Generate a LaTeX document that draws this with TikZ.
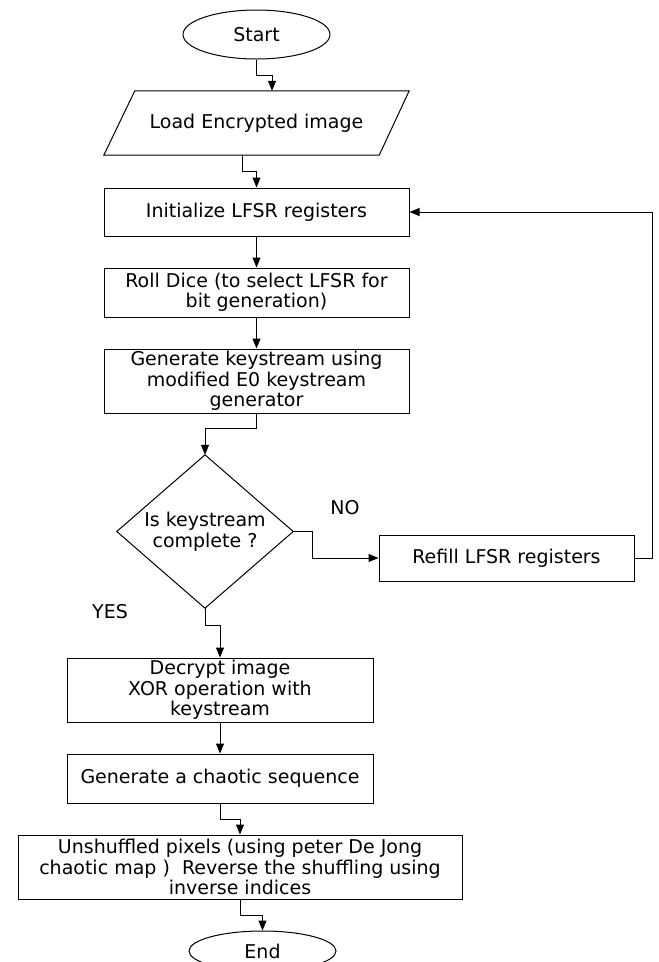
\documentclass[tikz,border=0pt]{standalone}
\usepackage{fontspec}
\setmainfont{DejaVu Sans}
\usetikzlibrary{shapes.geometric,arrows.meta}
\begin{document}
\begin{tikzpicture}[x=1pt,y=-1pt,
  every node/.style={font=\fontsize{19}{20.5}\selectfont, inner sep=0pt, align=center},
  box/.style={draw, line width=1pt, rectangle},
  oval/.style={draw, line width=1pt, ellipse, minimum width=147pt, minimum height=49pt},
  plain/.style={rectangle},
  arr/.style={-{Triangle[length=10pt,width=8pt]}, line width=1pt},
  lbl/.style={font=\fontsize{19}{20.5}\selectfont}]
\useasboundingbox (0,0) rectangle (659,962);
\clip (0,0) rectangle (659,962);

\node[oval] (start) at (256.5,34.5) {Start};
\node[plain, minimum width=305pt, minimum height=64pt] (load) at (256.5,123) {Load Encrypted image};
\draw[line width=1pt] ([xshift=31pt]load.north west) -- (load.north east) -- ([xshift=-30pt]load.south east) -- (load.south west) -- cycle;
\node[box, minimum width=305pt, minimum height=48pt] (init) at (256.5,212) {Initialize LFSR registers};
\node[box, minimum width=305pt, minimum height=49pt] (roll) at (256.5,292.5) {Roll Dice (to select LFSR for\\bit generation)};
\node[box, minimum width=305pt, minimum height=64pt] (gen) at (256.5,381) {Generate keystream using\\modified E0 keystream\\generator};
\node[plain, minimum width=176pt, minimum height=153pt] (dec) at (205,531.5) {Is keystream\\complete ?};
\draw[line width=1pt] (dec.north) -- (dec.east) -- (dec.south) -- (dec.west) -- cycle;
\node[box, minimum width=255pt, minimum height=46pt] (refill) at (506.5,558) {Refill LFSR registers};
\node[box, minimum width=306pt, minimum height=64pt] (decrypt) at (220,690) {Decrypt image\\XOR operation with\\keystream};
\node[box, minimum width=306pt, minimum height=49pt] (chaos) at (220,778.5) {Generate a chaotic sequence};
\node[box, minimum width=444pt, minimum height=64pt] (unsh) at (240,867) {Unshuffled pixels (using peter De Jong\\chaotic map )\ \ Reverse the shuffling using\\inverse indices};
\node[oval, minimum height=40pt] (end) at (262.5,951) {End};

\node[lbl] (no) at (345,508) {NO};
\node[lbl] (yes) at (110,612) {YES};

\draw[arr] (start.south) -- ++(0,16) -| ([xshift=15.5pt]load.north);
\draw[arr] ([xshift=-14.5pt]load.south) -- ++(0,16) -| (init.north);
\draw[arr] (init.south) -- (roll.north);
\draw[arr] (roll.south) -- (gen.north);
\draw[arr] (gen.south) -- ++(0,15) -| (dec.north);
\draw[arr] (dec.east) -- ++(19,0) |- (refill.west);
\draw[arr] (refill.east) -- ++(18,0) |- (init.east);
\draw[arr] (dec.south) -- ++(0,17) -| (decrypt.north);
\draw[arr] (decrypt.south) -- (chaos.north);
\draw[arr] (chaos.south) -- ++(0,16) -| (unsh.north);
\draw[arr] (unsh.south) -- ++(0,16) -| (end.north);
\end{tikzpicture}
\end{document}
